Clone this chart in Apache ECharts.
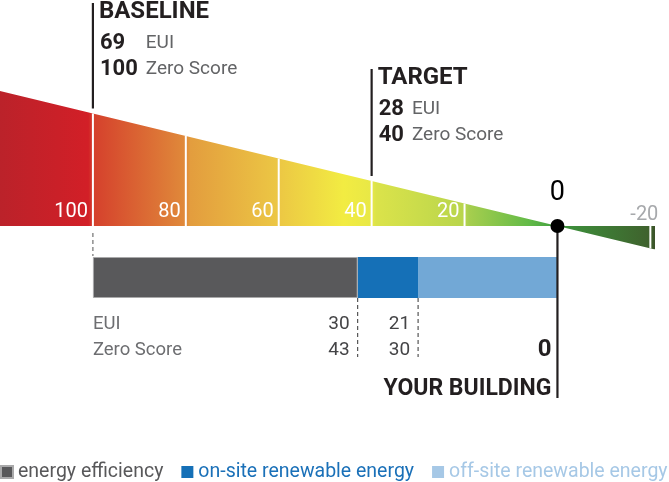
<!DOCTYPE html>
<html><head><meta charset="utf-8">
<script src="https://cdn.jsdelivr.net/npm/echarts@6/dist/echarts.min.js"></script>
<style>html,body{margin:0;padding:0;background:#fff}#c{width:669px;height:482px}</style>
</head><body><div id="c"></div>
<script>
// ---- data ----
const scaleMin = -21, scaleMax = 120;
const wedgeValues = [120, 0, -21];
const tickValues = [100, 80, 60, 40, 20, -20];
const tickLabels = ['100', '80', '60', '40', '20', '-20'];
const markerNames = ['BASELINE', 'TARGET'];
const markerScores = [100, 40];
const markerEUI = [69, 28];
const segmentNames = ['energy efficiency', 'on-site renewable energy', 'off-site renewable energy'];
const boundaryScores = [43, 30];
const boundaryEUI = [30, 21];
const baselineScore = 100;
const buildingScore = 0;
const rowLabels = ['EUI', 'Zero Score'];
const buildingLabel = 'YOUR BUILDING';

// ---- derived ----
const segEfficiency = baselineScore - boundaryScores[0];
const segOnsite = boundaryScores[0] - boundaryScores[1];
const segOffsite = boundaryScores[1] - buildingScore;

const FF = 'Roboto, "Noto Sans", sans-serif';
const DARK = '#231f20';
const cv = document.createElement('canvas').getContext('2d');
function measure(t, font){ cv.font = font; return cv.measureText(t).width; }

const gradStops = [
  [120, '#bb222a'], [101, '#d21f27'], [100, '#d5402c'], [80, '#e08a3a'], [79, '#e39d3e'],
  [60, '#ecc744'], [46, '#f2ec42'], [40, '#e8e846'], [39, '#dbe34a'], [20, '#b8d54c'],
  [19, '#a6ce4e'], [6, '#62ba47'], [0, '#3f9c3f'], [-1, '#3d923c'], [-20, '#3f612d'], [-21, '#3a5128']
];
const span = scaleMax - scaleMin;

const chart = echarts.init(document.getElementById('c'), null, {renderer: 'canvas'});
const markerTop = [12, 78];

chart.setOption({
  animation: false,
  grid: [
    {left: 0, right: 14, top: 91, bottom: 482 - 249.6},
    {left: 0, right: 14, top: 257, height: 41}
  ],
  xAxis: [
    {type: 'value', gridIndex: 0, min: scaleMin, max: scaleMax, inverse: true, show: false},
    {type: 'value', gridIndex: 1, min: scaleMin, max: scaleMax, inverse: true, show: false}
  ],
  yAxis: [
    {type: 'value', gridIndex: 0, min: scaleMin, max: scaleMax, show: false},
    {type: 'category', gridIndex: 1, data: ['building'], show: false}
  ],
  legend: {
    left: 0, top: 462, width: 760, padding: 0, itemWidth: 12, itemHeight: 12, itemGap: 18, icon: 'rect',
    textStyle: {fontFamily: FF, fontSize: 19.5, padding: [0, 0, 0, 0]},
    data: [
      {name: segmentNames[0], itemStyle: {color: '#58585a'}, textStyle: {color: '#58585a'}},
      {name: segmentNames[1], itemStyle: {color: '#1570b7'}, textStyle: {color: '#1a70b8'}},
      {name: segmentNames[2], itemStyle: {color: '#a6c8e6'}, textStyle: {color: '#a6c8e6'}}
    ]
  },
  series: [
    {
      type: 'line', xAxisIndex: 0, yAxisIndex: 0, symbol: 'none', silent: true,
      data: wedgeValues.map(v => [v, v]),
      lineStyle: {width: 0},
      areaStyle: {
        opacity: 1,
        color: new echarts.graphic.LinearGradient(0, 0, 1, 0,
          gradStops.map(s => ({offset: (scaleMax - s[0]) / span, color: s[1]})))
      },
      z: 1
    },
    {
      type: 'custom', xAxisIndex: 0, yAxisIndex: 0, z: 3,
      data: tickValues.map((v, i) => [v, i]),
      renderItem: function(params, api){
        const v = api.value(0), i = api.value(1);
        const p0 = api.coord([v, 0]), p1 = api.coord([v, v]);
        const neg = v < 0;
        return {type: 'group', children: [
          {type: 'line', shape: {x1: p0[0], y1: p0[1], x2: p1[0], y2: p1[1]}, style: {stroke: '#ffffff', lineWidth: 2}},
          {type: 'text', x: neg ? p0[0] - 6 : p0[0] - 5, y: p0[1] - (neg ? 11 : 13.5),
           style: {text: tickLabels[i], fill: neg ? '#a7a9ac' : '#ffffff', font: '20px ' + FF,
                   align: neg ? 'center' : 'right', verticalAlign: 'middle'}}
        ]};
      }
    },
    {
      type: 'custom', xAxisIndex: 0, yAxisIndex: 0, z: 4,
      data: markerScores.map((s, i) => [s, i]),
      renderItem: function(params, api){
        const s = api.value(0), i = api.value(1);
        const top = api.coord([s, s]);
        const x = top[0], y0 = markerTop[i];
        const nf = 'bold 22px ' + FF;
        const numW = Math.max(measure(String(markerScores[i]), nf), measure(String(markerEUI[i]), nf));
        const ux = x + 7 + numW + 8;
        return {type: 'group', children: [
          {type: 'line', shape: {x1: x, y1: y0 - 9, x2: x, y2: top[1] - 5}, style: {stroke: DARK, lineWidth: 2.2}},
          {type: 'text', x: x + 6, y: y0, style: {text: markerNames[i], font: 'bold 24px ' + FF, fill: DARK, align: 'left', verticalAlign: 'middle'}},
          {type: 'text', x: x + 7, y: y0 + 31, style: {text: String(markerEUI[i]), font: nf, fill: DARK, align: 'left', verticalAlign: 'middle'}},
          {type: 'text', x: ux, y: y0 + 31, style: {text: rowLabels[0], font: '19px ' + FF, fill: '#636466', align: 'left', verticalAlign: 'middle'}},
          {type: 'text', x: x + 7, y: y0 + 57, style: {text: String(markerScores[i]), font: nf, fill: DARK, align: 'left', verticalAlign: 'middle'}},
          {type: 'text', x: ux, y: y0 + 57, style: {text: rowLabels[1], font: '19px ' + FF, fill: '#636466', align: 'left', verticalAlign: 'middle'}}
        ]};
      }
    },
    {
      type: 'custom', xAxisIndex: 0, yAxisIndex: 0, z: 4,
      data: boundaryScores.map((s, i) => [s, i]),
      renderItem: function(params, api){
        const s = api.value(0), i = api.value(1);
        const x = api.coord([s, 0])[0];
        return {type: 'group', children: [
          {type: 'line', shape: {x1: x, y1: 298, x2: x, y2: 357}, style: {stroke: '#333', lineWidth: 1, lineDash: [4, 3]}},
          {type: 'text', x: x - 8, y: 324, style: {text: String(boundaryEUI[i]), font: '19px ' + FF, fill: '#444446', align: 'right', verticalAlign: 'middle'}},
          {type: 'text', x: x - 8, y: 350, style: {text: String(boundaryScores[i]), font: '19px ' + FF, fill: '#444446', align: 'right', verticalAlign: 'middle'}}
        ]};
      }
    },
    {
      type: 'custom', xAxisIndex: 0, yAxisIndex: 0, z: 4,
      data: [[baselineScore, 0]],
      renderItem: function(params, api){
        const x = api.coord([api.value(0), 0])[0];
        return {type: 'group', children: [
          {type: 'line', shape: {x1: x, y1: 233, x2: x, y2: 256}, style: {stroke: '#555', lineWidth: 1, lineDash: [4, 3]}},
          {type: 'text', x: x, y: 324, style: {text: rowLabels[0], font: '18.5px ' + FF, fill: '#6d6e71', align: 'left', verticalAlign: 'middle'}},
          {type: 'text', x: x, y: 350, style: {text: rowLabels[1], font: '18.5px ' + FF, fill: '#6d6e71', align: 'left', verticalAlign: 'middle'}}
        ]};
      }
    },
    {
      type: 'custom', xAxisIndex: 0, yAxisIndex: 0, z: 6,
      data: [[buildingScore, 0]],
      renderItem: function(params, api){
        const p = api.coord([api.value(0), api.value(0)]);
        return {type: 'group', children: [
          {type: 'line', shape: {x1: p[0], y1: p[1], x2: p[0], y2: 398}, style: {stroke: DARK, lineWidth: 2.2}},
          {type: 'circle', shape: {cx: p[0], cy: p[1], r: 7}, style: {fill: '#000'}},
          {type: 'text', x: p[0], y: p[1] - 33, style: {text: String(buildingScore), font: '27px ' + FF, fill: '#000', align: 'center', verticalAlign: 'middle'}},
          {type: 'text', x: p[0] - 6, y: 350, style: {text: String(buildingScore), font: 'bold 24px ' + FF, fill: DARK, align: 'right', verticalAlign: 'middle'}},
          {type: 'text', x: p[0] - 6, y: 389, style: {text: buildingLabel, font: 'bold 23px ' + FF, fill: DARK, align: 'right', verticalAlign: 'middle'}}
        ]};
      }
    },
    {name: segmentNames[2], type: 'bar', xAxisIndex: 1, yAxisIndex: 1, stack: 's', barWidth: '100%', data: [segOffsite], itemStyle: {color: '#72a8d6'}, z: 2},
    {name: segmentNames[1], type: 'bar', xAxisIndex: 1, yAxisIndex: 1, stack: 's', barWidth: '100%', data: [segOnsite], itemStyle: {color: '#1570b7'}, z: 2},
    {name: segmentNames[0], type: 'bar', xAxisIndex: 1, yAxisIndex: 1, stack: 's', barWidth: '100%', data: [segEfficiency], itemStyle: {color: '#59595b', borderColor: '#a9a9aa', borderWidth: 1}, z: 2}
  ]
});
</script></body></html>
